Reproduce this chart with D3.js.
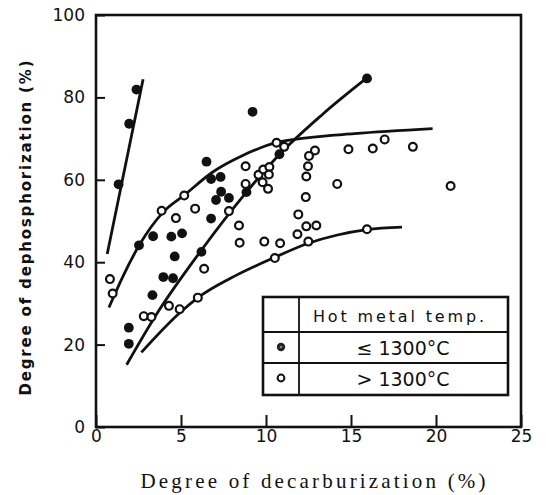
<!DOCTYPE html>
<html lang="en">
<head>
<meta charset="utf8">
<script src="https://cdn.jsdelivr.net/npm/d3@7"></script>
<title>Dephosphorization vs decarburization</title>
<style>
  body { margin: 0; background: #fff; }
</style>
</head>
<body>
<div id="chart"></div>
<script>
  // ticks
  var xTicks = [0, 5, 10, 15, 20, 25];
  var yTicks = [0, 20, 40, 60, 80, 100];

  // hot metal temp <= 1300 C (filled)
  var lowTemp = [
    [1.33, 58.9], [1.95, 73.6], [2.38, 81.9], [1.93, 24.1], [1.93, 20.2],
    [2.53, 44.1], [3.36, 46.3], [3.32, 32.0], [3.96, 36.4], [4.53, 36.1],
    [4.43, 46.2], [5.06, 47.0], [4.63, 41.4], [6.2, 42.5], [6.77, 50.6],
    [6.5, 64.4], [6.77, 60.2], [7.33, 60.7], [7.36, 57.1], [7.06, 55.1],
    [7.82, 55.6], [8.85, 57.0], [9.21, 76.5], [10.79, 66.2], [15.94, 84.6]
  ];

  // hot metal temp > 1300 C (open)
  var highTemp = [
    [0.82, 35.9], [0.98, 32.4], [2.81, 26.9], [3.26, 26.7], [4.29, 29.4],
    [4.92, 28.6], [5.99, 31.4], [6.36, 38.4], [3.86, 52.5], [4.7, 50.7],
    [5.19, 56.2], [5.83, 53.0], [7.82, 52.4], [8.8, 63.3], [8.8, 59.0],
    [8.41, 48.9], [8.45, 44.7], [9.9, 45.0], [10.83, 44.6], [10.52, 41.0],
    [9.56, 61.2], [9.84, 62.5], [10.2, 63.1], [10.17, 61.3], [9.8, 59.4],
    [10.12, 57.8], [10.62, 69.0], [11.07, 68.0], [11.9, 51.6], [11.85, 46.8],
    [12.37, 48.7], [12.96, 48.9], [12.49, 45.0], [12.88, 67.1], [12.53, 65.8],
    [12.47, 63.3], [12.37, 60.8], [12.34, 55.8], [14.19, 59.0], [14.85, 67.4],
    [16.28, 67.6], [16.98, 69.8], [18.64, 68.0], [20.86, 58.5], [15.94, 48.0]
  ];

  // hand drawn trend lines
  var lineA = [[0.66, 42], [2.77, 84.4]];
  var lineB = [[0.76, 29], [1.6, 36.7], [2.54, 44.1], [3.94, 52.1], [5.17, 56.2],
               [6.87, 61.9], [8.63, 65.9], [10.58, 69.0], [12.4, 70.2], [15.2, 71.2], [19.8, 72.4]];
  var lineC = [[1.8, 15.1], [3.55, 27.3], [6.09, 42.3], [8.85, 57.0], [10.8, 66.2],
               [13.3, 75.8], [15.9, 84.6]];
  var lineD = [[2.67, 18.1], [4.9, 27.6], [6.0, 31.4], [8.24, 36.8], [10.53, 41.2],
               [12.49, 44.6], [14.2, 46.6], [15.94, 47.9], [18.0, 48.5]];

  var legendRows = ["\u2264 1300\u00b0C", "> 1300\u00b0C"];

  var width = 546, height = 495;

  var svg = d3.select("#chart").append("svg")
    .attr("width", width).attr("height", height);

  var x = d3.scaleLinear().domain([0, 25]).range([96, 521]);
  var y = d3.scaleLinear().domain([0, 100]).range([427, 15]);

  var tickFont = "'DejaVu Sans', sans-serif";

  // x axis, ticks point inward
  var gx = svg.append("g").attr("transform", "translate(0,427)")
    .call(d3.axisBottom(x).tickValues(xTicks).tickFormat(d3.format("d"))
      .tickSizeInner(-12).tickSizeOuter(0).tickPadding(3));
  gx.select(".domain").remove();
  gx.selectAll("line").attr("stroke", "#111").attr("stroke-width", 2);
  gx.selectAll("text").style("font-family", tickFont).style("font-size", "17px").attr("fill", "#111");

  var gy = svg.append("g").attr("transform", "translate(96,0)")
    .call(d3.axisLeft(y).tickValues(yTicks).tickFormat(d3.format("d"))
      .tickSizeInner(-9).tickSizeOuter(0).tickPadding(11));
  gy.select(".domain").remove();
  gy.selectAll("line").attr("stroke", "#111").attr("stroke-width", 2);
  gy.selectAll("text").style("font-family", tickFont).style("font-size", "17px").attr("fill", "#111");

  // frame
  svg.append("rect")
    .attr("x", x(0)).attr("y", y(100))
    .attr("width", x(25) - x(0)).attr("height", y(0) - y(100))
    .attr("fill", "none").attr("stroke", "#111").attr("stroke-width", 2.6);

  // trend lines
  var line = d3.line().x(function (d) { return x(d[0]); }).y(function (d) { return y(d[1]); })
    .curve(d3.curveMonotoneX);
  var lines = svg.append("g").attr("fill", "none").attr("stroke", "#111").attr("stroke-width", 2.8);
  [lineA, lineB, lineC, lineD].forEach(function (l) {
    lines.append("path").attr("d", line(l));
  });

  // points
  svg.append("g").selectAll("circle").data(highTemp).enter().append("circle")
    .attr("cx", function (d) { return x(d[0]); })
    .attr("cy", function (d) { return y(d[1]); })
    .attr("r", 3.9).attr("fill", "#fff").attr("stroke", "#111").attr("stroke-width", 2.2);

  svg.append("g").selectAll("circle").data(lowTemp).enter().append("circle")
    .attr("cx", function (d) { return x(d[0]); })
    .attr("cy", function (d) { return y(d[1]); })
    .attr("r", 4.9).attr("fill", "#111");

  // legend table
  var lg = svg.append("g").attr("stroke", "#111").attr("fill", "none");
  lg.append("rect").attr("x", 263).attr("y", 297).attr("width", 245).attr("height", 98)
    .attr("stroke-width", 2.6);
  lg.append("line").attr("x1", 299).attr("x2", 299).attr("y1", 297).attr("y2", 395).attr("stroke-width", 1.8);
  lg.append("line").attr("x1", 263).attr("x2", 508).attr("y1", 332).attr("y2", 332).attr("stroke-width", 1.8);
  lg.append("line").attr("x1", 263).attr("x2", 508).attr("y1", 363).attr("y2", 363).attr("stroke-width", 1.8);

  svg.append("circle").attr("cx", 281).attr("cy", 347).attr("r", 4.2).attr("fill", "#222");
  svg.append("circle").attr("cx", 281).attr("cy", 347).attr("r", 1.3).attr("fill", "#888");
  svg.append("circle").attr("cx", 281).attr("cy", 378).attr("r", 3.4)
    .attr("fill", "#fff").attr("stroke", "#111").attr("stroke-width", 2);

  var legendFont = "'DejaVu Sans', sans-serif";
  svg.append("text").attr("x", 313).attr("y", 322)
    .attr("textLength", 171).attr("lengthAdjust", "spacing")
    .style("font-family", legendFont).style("font-size", "16px").attr("fill", "#111")
    .text("Hot metal temp.");
  svg.selectAll("text.row").data(legendRows).enter().append("text").attr("class", "row")
    .attr("x", 403).attr("y", function (d, i) { return 355 + i * 31; })
    .attr("text-anchor", "middle")
    .style("font-family", legendFont).style("font-size", "19px").attr("fill", "#111")
    .text(function (d) { return d; });

  // axis titles
  svg.append("text").attr("x", 313).attr("y", 488).attr("text-anchor", "middle")
    .attr("textLength", 345).attr("lengthAdjust", "spacing")
    .style("font-family", "'Liberation Serif', 'DejaVu Serif', serif").style("font-size", "21px")
    .attr("fill", "#111")
    .text("Degree of decarburization (%)");

  svg.append("text").attr("transform", "translate(31,228) rotate(-90)").attr("text-anchor", "middle")
    .attr("textLength", 335).attr("lengthAdjust", "spacing")
    .style("font-family", "'DejaVu Sans', sans-serif").style("font-size", "15px").style("font-weight", "bold")
    .attr("fill", "#111")
    .text("Degree of dephosphorization (%)");
</script>
</body>
</html>
